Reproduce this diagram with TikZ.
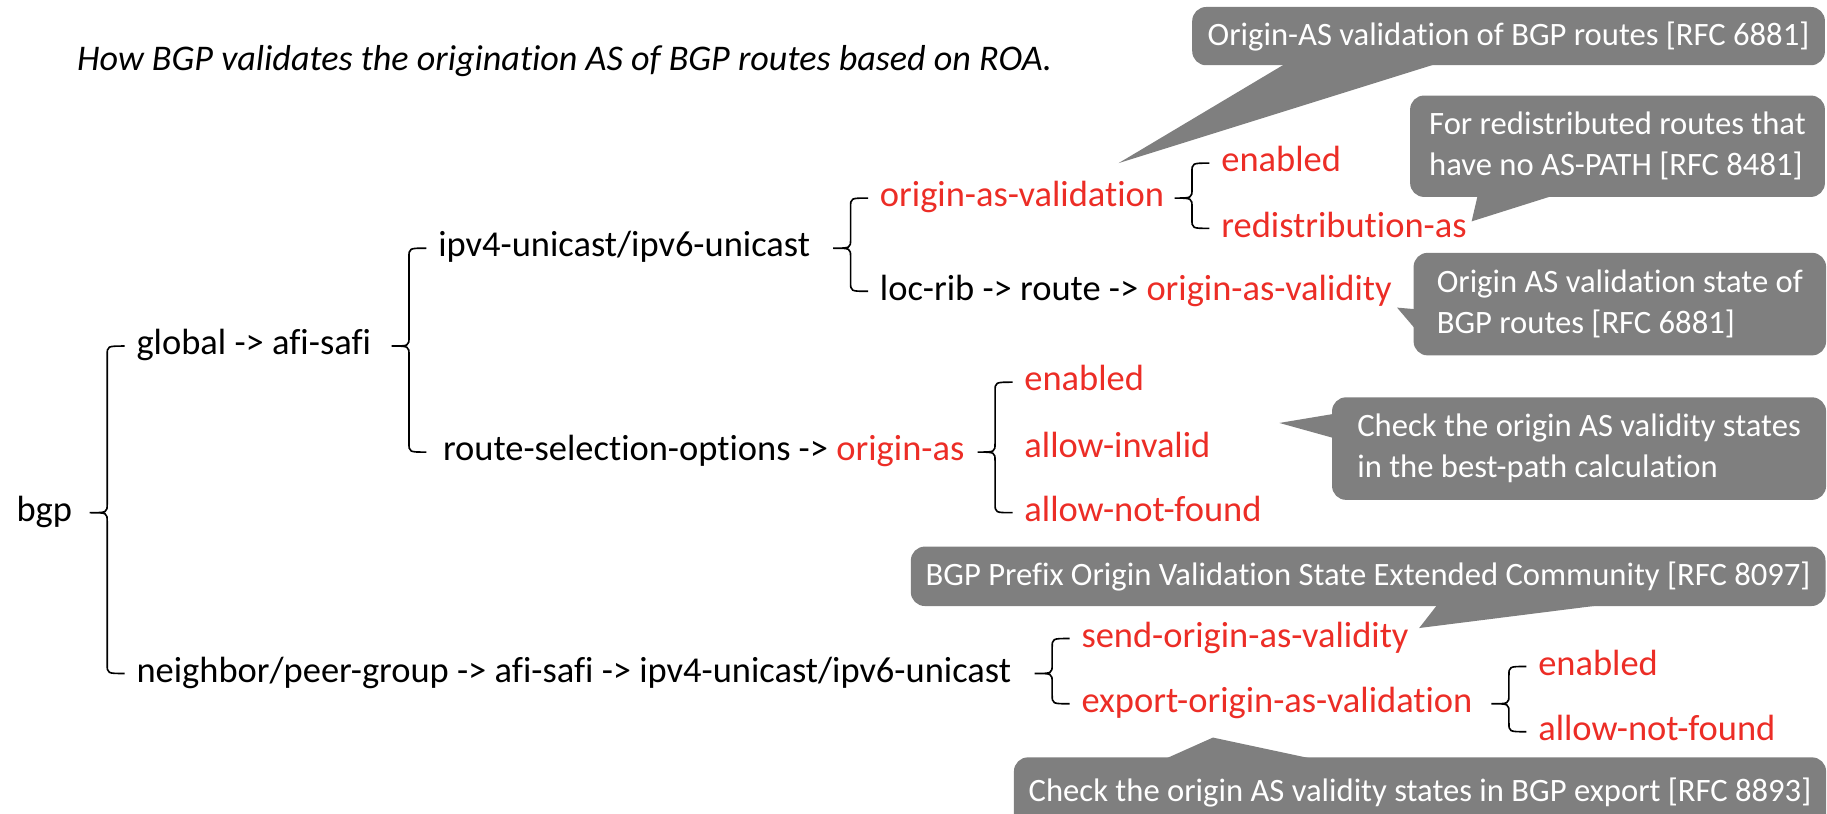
\documentclass[tikz,border=0pt]{standalone}
\usepackage{fontspec}
\setmainfont{Carlito}[Ligatures={NoCommon}]
\usetikzlibrary{calc}
\definecolor{bred}{RGB}{236,45,38}
\definecolor{cgray}{RGB}{127,127,127}
\newcommand\brc[3]{%
  \draw[brcline] let \p1=(#2.west), \p2=(#3.west), \p3=(#1.east),
    \p4=($(#2.west)+(-25pt,0pt)$) in
    ({\x4+15pt},\y1) .. controls (\x4,\y1) .. (\x4,{\y1-8pt})
    -- (\x4,{\y3+8pt}) .. controls (\x4,\y3) .. ({\x4-15pt},\y3)
    .. controls (\x4,\y3) .. (\x4,{\y3-8pt})
    -- (\x4,{\y2+8pt}) .. controls (\x4,\y2) .. ({\x4+15pt},\y2);}
\begin{document}
\begin{tikzpicture}[x=1pt,y=-1pt,
  txt/.style={anchor=west, inner sep=0pt, font=\fontsize{31.3}{37}\selectfont, text height=23pt, text depth=8pt},
  rtxt/.style={txt, text=bred},
  brcline/.style={line width=1.4pt, black},
  callout/.style={fill=cgray, rounded corners=12pt, text=white, font=\fontsize{28}{35}\selectfont, align=left, inner sep=0pt, anchor=west},
  ptr/.style={fill=cgray}]
\useasboundingbox (0,0) rectangle (1568,698);

% title
\node[anchor=west, inner sep=0pt, font=\fontsize{31}{37}\selectfont\itshape] (title) at (66,52) {How BGP validates the origination AS of BGP routes based on ROA.};

% tree nodes
\node[txt] (bgp) at (14,440) {bgp};
\node[txt] (glob) at (117,297) {global -> afi-safi};
\node[txt] (ipv) at (376,213) {ipv4-unicast/ipv6-unicast};
\node[txt] (rso) at (380,388) {route-selection-options -> \textcolor{bred}{origin-as}};
\node[rtxt] (oav) at (755,170) {origin-as-validation};
\node[txt] (loc) at (755,250) {loc-rib -> route -> \textcolor{bred}{origin-as-validity}};
\node[rtxt] (en1) at (1048,140) {enabled};
\node[rtxt] (redis) at (1048,196) {redistribution-as};
\node[rtxt] (en2) at (879,328) {enabled};
\node[rtxt] (ainv) at (879,385) {allow-invalid};
\node[rtxt] (anf) at (879,440) {allow-not-found};
\node[txt] (nbr) at (117,578) {neighbor/peer-group -> afi-safi -> ipv4-unicast/ipv6-unicast};
\node[rtxt] (sov) at (928,548) {send-origin-as-validity};
\node[rtxt] (eov) at (928,604) {export-origin-as-validation};
\node[rtxt] (en3) at (1320,572) {enabled};
\node[rtxt] (anf2) at (1320,628) {allow-not-found};

% braces
\brc{bgp}{glob}{nbr}
\brc{glob}{ipv}{rso}
\brc{ipv}{oav}{loc}
\brc{oav}{en1}{redis}
\brc{rso}{en2}{anf}
\brc{nbr}{sov}{eov}
\brc{eov}{en3}{anf2}

% callouts
\fill[ptr] (1111,50) -- (1248,50) -- (960,140) -- cycle;
\node[callout, minimum width=543pt, minimum height=50pt] (c1) at (1023,31) {Origin-AS validation of BGP routes [RFC 6881]};

\fill[ptr] (1270,160) -- (1358,160) -- (1263,190) -- cycle;
\node[callout, minimum width=356pt, minimum height=87pt] (c2) at (1210,125.5) {For redistributed routes that\\have no AS-PATH [RFC 8481]};

\fill[ptr] (1222,266) -- (1222,291) -- (1199,264) -- cycle;
\node[callout, minimum width=354pt, minimum height=88pt] (c3) at (1213,261) {Origin AS validation state of\\BGP routes [RFC 6881]};

\fill[ptr] (1152,354) -- (1152,378) -- (1098,363) -- cycle;
\node[callout, minimum width=424pt, minimum height=88pt] (c4) at (1143,385) {Check the origin AS validity states\\in the best-path calculation};

\fill[ptr] (1239,512) -- (1432,512) -- (1218,539) -- cycle;
\node[callout, minimum width=785pt, minimum height=51pt] (c5) at (781.5,494.6) {BGP Prefix Origin Validation State Extended Community [RFC 8097]};

\fill[ptr] (985,658) -- (1158,658) -- (1041,633) -- cycle;
\node[callout, minimum width=697pt, minimum height=62pt] (c6) at (870,681) {\raisebox{6pt}{Check the origin AS validity states in BGP export [RFC 8893]}};
\end{tikzpicture}
\end{document}
